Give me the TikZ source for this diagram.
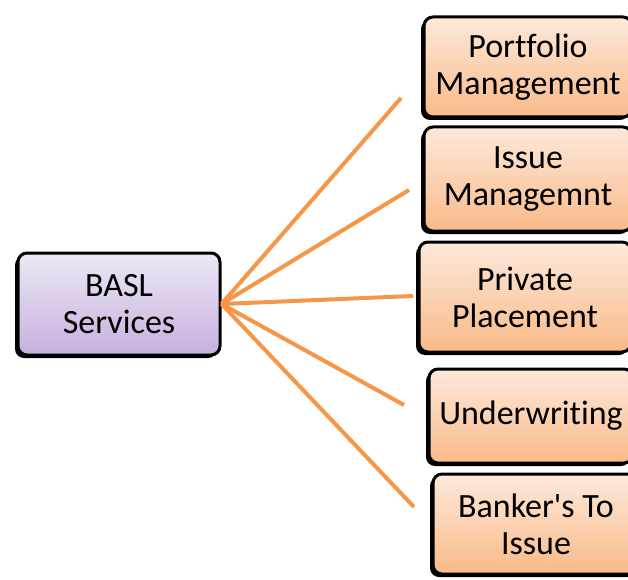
\documentclass[tikz,border=0pt]{standalone}
\usepackage{fontspec}
\setmainfont{Carlito}[Ligatures={TeXOff,NoCommon}]
\usetikzlibrary{shadows}
\definecolor{lineorange}{HTML}{F79646}
\definecolor{violettop}{HTML}{EEE8F6}
\definecolor{violetbot}{HTML}{C6B0DE}
\definecolor{orangetop}{HTML}{FDE9DB}
\definecolor{orangebot}{HTML}{F9BA88}
\begin{document}
\begin{tikzpicture}
  [x=1pt,y=1pt,
   every node/.style={rounded corners=9pt,draw=black,line width=3pt,align=center,
     font=\fontsize{34}{37}\selectfont,inner sep=0pt,
     drop shadow={shadow xshift=-3pt,shadow yshift=-3pt,fill=black,opacity=1}},
   basl/.style={top color=violettop,bottom color=violetbot},
   service/.style={top color=orangetop,bottom color=orangebot},
   link/.style={draw=lineorange,line width=4pt}]
  \useasboundingbox (0,0) rectangle (628,579);
  \clip (0,0) rectangle (628,579);

  \node[basl,minimum width=202pt,minimum height=102pt] (basl) at (119,275) {BASL\\Services};

  \node[service,minimum width=208pt,minimum height=100pt] (pm) at (528,512) {Portfolio\\Management};
  \node[service,minimum width=208pt,minimum height=104pt] (im) at (528,400) {Issue\\Managemnt};
  \node[service,minimum width=212pt,minimum height=110pt] (pp) at (525,282) {Private\\Placement};
  \node[service,minimum width=204pt,minimum height=94pt] (uw) at (531,163) {\raisebox{-5pt}{Underwriting}};
  \node[service,minimum width=206pt,minimum height=100pt] (bi) at (536,55) {Banker's To\\Issue};

  \coordinate (e1) at (401,481);
  \coordinate (e2) at (409,389);
  \coordinate (e3) at (413,283);
  \coordinate (e4) at (404,174);
  \coordinate (e5) at (414,72);

\path [link]
(basl.east) edge (e1)
(basl.east) edge (e2)
(basl.east) edge (e3)
(basl.east) edge (e4)
(basl.east) edge (e5)
;
\end{tikzpicture}
\end{document}
